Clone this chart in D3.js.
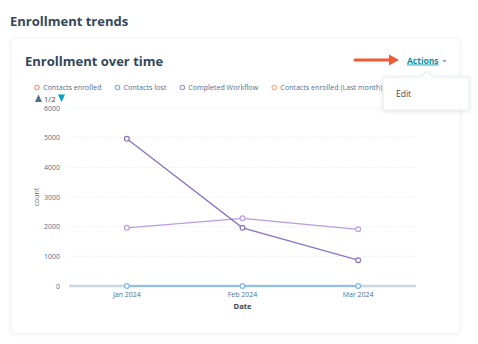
<!DOCTYPE html>
<html>
<head>
<meta charset="utf-8">
<script src="https://cdn.jsdelivr.net/npm/d3@7"></script>
<style>
  html, body { margin: 0; padding: 0; background: #ffffff; }
  svg { display: block; font-family: "Open Sans", "DejaVu Sans", sans-serif; }
</style>
</head>
<body>
<svg id="chart" width="478" height="344"></svg>
<script>
// Monthly categories on the x axis
const months = ["Jan 2024", "Feb 2024", "Mar 2024"];

// Series values per month
const completedWorkflow = [4960, 1960, 870];
const completedWorkflowPrev = [1960, 2280, 1910];
const contactsLost = [0, 0, 0];

// Y axis ticks
const yTicks = [0, 1000, 2000, 3000, 4000, 5000, 6000];

// Legend entries shown on page 1
const legendLabels = ["Contacts enrolled", "Contacts lost", "Completed Workflow", "Contacts enrolled (Last month)"];
const legendColors = ["#f5936f", "#52c7d8", "#a68dd2", "#f5b169"];

const svg = d3.select("#chart");
const defs = svg.append("defs");

const shadow = defs.append("filter").attr("id", "cardShadow")
  .attr("x", "-5%").attr("y", "-5%").attr("width", "110%").attr("height", "110%");
shadow.append("feDropShadow").attr("dx", 0).attr("dy", 1).attr("stdDeviation", 1.5)
  .attr("flood-color", "#2d3e50").attr("flood-opacity", 0.08);

const menuShadow = defs.append("filter").attr("id", "menuShadow")
  .attr("x", "-20%").attr("y", "-30%").attr("width", "140%").attr("height", "160%");
menuShadow.append("feDropShadow").attr("dx", 0).attr("dy", 1).attr("stdDeviation", 2)
  .attr("flood-color", "#2d3e50").attr("flood-opacity", 0.12);

// Page heading
svg.append("text").attr("x", 10).attr("y", 26)
  .attr("font-size", 13).attr("font-weight", 700).attr("fill", "#33475b")
  .text("Enrollment trends");

// Card
svg.append("rect").attr("x", 11).attr("y", 38).attr("width", 449).attr("height", 295)
  .attr("rx", 3).attr("fill", "#ffffff").attr("stroke", "#eef2f6").attr("filter", "url(#cardShadow)");

svg.append("text").attr("x", 25).attr("y", 66)
  .attr("font-size", 13).attr("font-weight", 700).attr("fill", "#33475b")
  .text("Enrollment over time");

// Legend: items laid out left to right, shrunk to fit the available row
const legend = svg.append("g").attr("fill", "#516f90");
const legendLeft = 37, legendRight = 378, itemGap = 16, markerGap = 6;
let fs = 7.6;
const probe = legend.append("g").attr("font-size", fs);
const widths = legendLabels.map(l => probe.append("text").text(l).node().getComputedTextLength());
probe.remove();
const natural = d3.sum(widths) + legendLabels.length * markerGap + (legendLabels.length - 1) * itemGap;
const k = Math.min(1, (legendRight - legendLeft) / natural);
fs *= k;
legend.attr("font-size", fs);
let lx = legendLeft;
legendLabels.forEach((label, i) => {
  legend.append("circle").attr("cx", lx).attr("cy", 87.5).attr("r", 2.2)
    .attr("fill", "none").attr("stroke", legendColors[i]).attr("stroke-width", 1.1);
  legend.append("text").attr("x", lx + markerGap).attr("y", 90.2).text(label);
  lx += widths[i] * k + markerGap + itemGap;
});

// Legend pagination
const pager = svg.append("g");
pager.append("path").attr("d", "M35,102 L38.5,94.5 L42,102 Z").attr("fill", "#516f90");
pager.append("text").attr("x", 44).attr("y", 101.5).attr("font-size", 7.6).attr("fill", "#33475b").text("1/2");
pager.append("path").attr("d", "M58,94.5 L65,94.5 L61.5,102 Z").attr("fill", "#00a4bd");

// Plot area
const x = d3.scaleBand().domain(months).range([69, 416]);
const y = d3.scaleLinear().domain([0, 6000]).range([286, 108]);
const cx = d => x(d) + x.bandwidth() / 2;

// Gridlines
svg.append("g").selectAll("line").data(yTicks.filter(v => v > 0)).join("line")
  .attr("x1", 69).attr("x2", 416)
  .attr("y1", d => y(d)).attr("y2", d => y(d))
  .attr("stroke", "#e3e7ef").attr("stroke-width", 0.8).attr("stroke-dasharray", "1.5,1.5");

// Y axis labels
const yAxis = svg.append("g").attr("transform", "translate(69,0)")
  .call(d3.axisLeft(y).tickValues(yTicks).tickSize(0).tickPadding(9).tickFormat(d3.format("d")));
yAxis.select(".domain").remove();
yAxis.selectAll("text").attr("font-size", 7).attr("fill", "#516f90")
  .attr("font-family", "\"Open Sans\", sans-serif");

svg.append("text").attr("transform", "translate(39,197) rotate(-90)")
  .attr("text-anchor", "middle").attr("font-size", 7).attr("fill", "#516f90").text("count");

// Baseline
svg.append("line").attr("x1", 69).attr("x2", 416).attr("y1", y(0)).attr("y2", y(0))
  .attr("stroke", "#cbd6e2").attr("stroke-width", 2.5);

// X axis labels
const xAxis = svg.append("g").attr("transform", `translate(0,${y(0)})`)
  .call(d3.axisBottom(x).tickSize(0).tickPadding(6));
xAxis.select(".domain").remove();
xAxis.selectAll("text").attr("font-size", 7).attr("fill", "#516f90")
  .attr("font-family", "\"Open Sans\", sans-serif");

svg.append("text").attr("x", 242.5).attr("y", 309).attr("text-anchor", "middle")
  .attr("font-size", 7.5).attr("font-weight", 700).attr("fill", "#33475b").text("Date");

// Lines
const series = [
  { values: completedWorkflowPrev, color: "#b89de3", width: 1.3 },
  { values: completedWorkflow, color: "#8d73bf", width: 1.3 },
  { values: contactsLost, color: "#7db8ea", width: 1.5 }
];
const line = d3.line().x(d => cx(d.m)).y(d => y(d.v));
series.forEach(s => {
  const pts = months.map((m, i) => ({ m, v: s.values[i] }));
  svg.append("path").datum(pts).attr("d", line)
    .attr("fill", "none").attr("stroke", s.color).attr("stroke-width", s.width);
  svg.append("g").selectAll("circle").data(pts).join("circle")
    .attr("cx", d => cx(d.m)).attr("cy", d => y(d.v)).attr("r", 2.4)
    .attr("fill", "#ffffff").attr("stroke", s.color).attr("stroke-width", 1.2);
});

// Actions link
svg.append("text").attr("x", 407).attr("y", 63.5)
  .attr("font-size", 8.5).attr("font-weight", 700).attr("fill", "#0091ae")
  .attr("text-decoration", "underline").text("Actions");
svg.append("path").attr("d", "M442.5,60 L446.5,60 L444.5,62.5 Z").attr("fill", "#7c98b6");

// Pointer arrow
svg.append("line").attr("x1", 355).attr("x2", 391).attr("y1", 60).attr("y2", 60)
  .attr("stroke", "#f05a37").attr("stroke-width", 3).attr("stroke-linecap", "round");
svg.append("path").attr("d", "M389,54.5 L399,60 L389,65.5 Z").attr("fill", "#f05a37");

// Dropdown menu
const menu = svg.append("g").attr("filter", "url(#menuShadow)");
menu.append("path")
  .attr("d", "M385,77 L421,77 L427,71 L433,77 L467,77 Q469,77 469,79 L469,108 Q469,110 467,110 L385,110 Q383,110 383,108 L383,79 Q383,77 385,77 Z")
  .attr("fill", "#ffffff").attr("stroke", "#e1e7ee").attr("stroke-width", 0.8);
svg.append("text").attr("x", 396).attr("y", 97).attr("font-size", 8.5)
  .attr("fill", "#33475b").text("Edit");
</script>
</body>
</html>
